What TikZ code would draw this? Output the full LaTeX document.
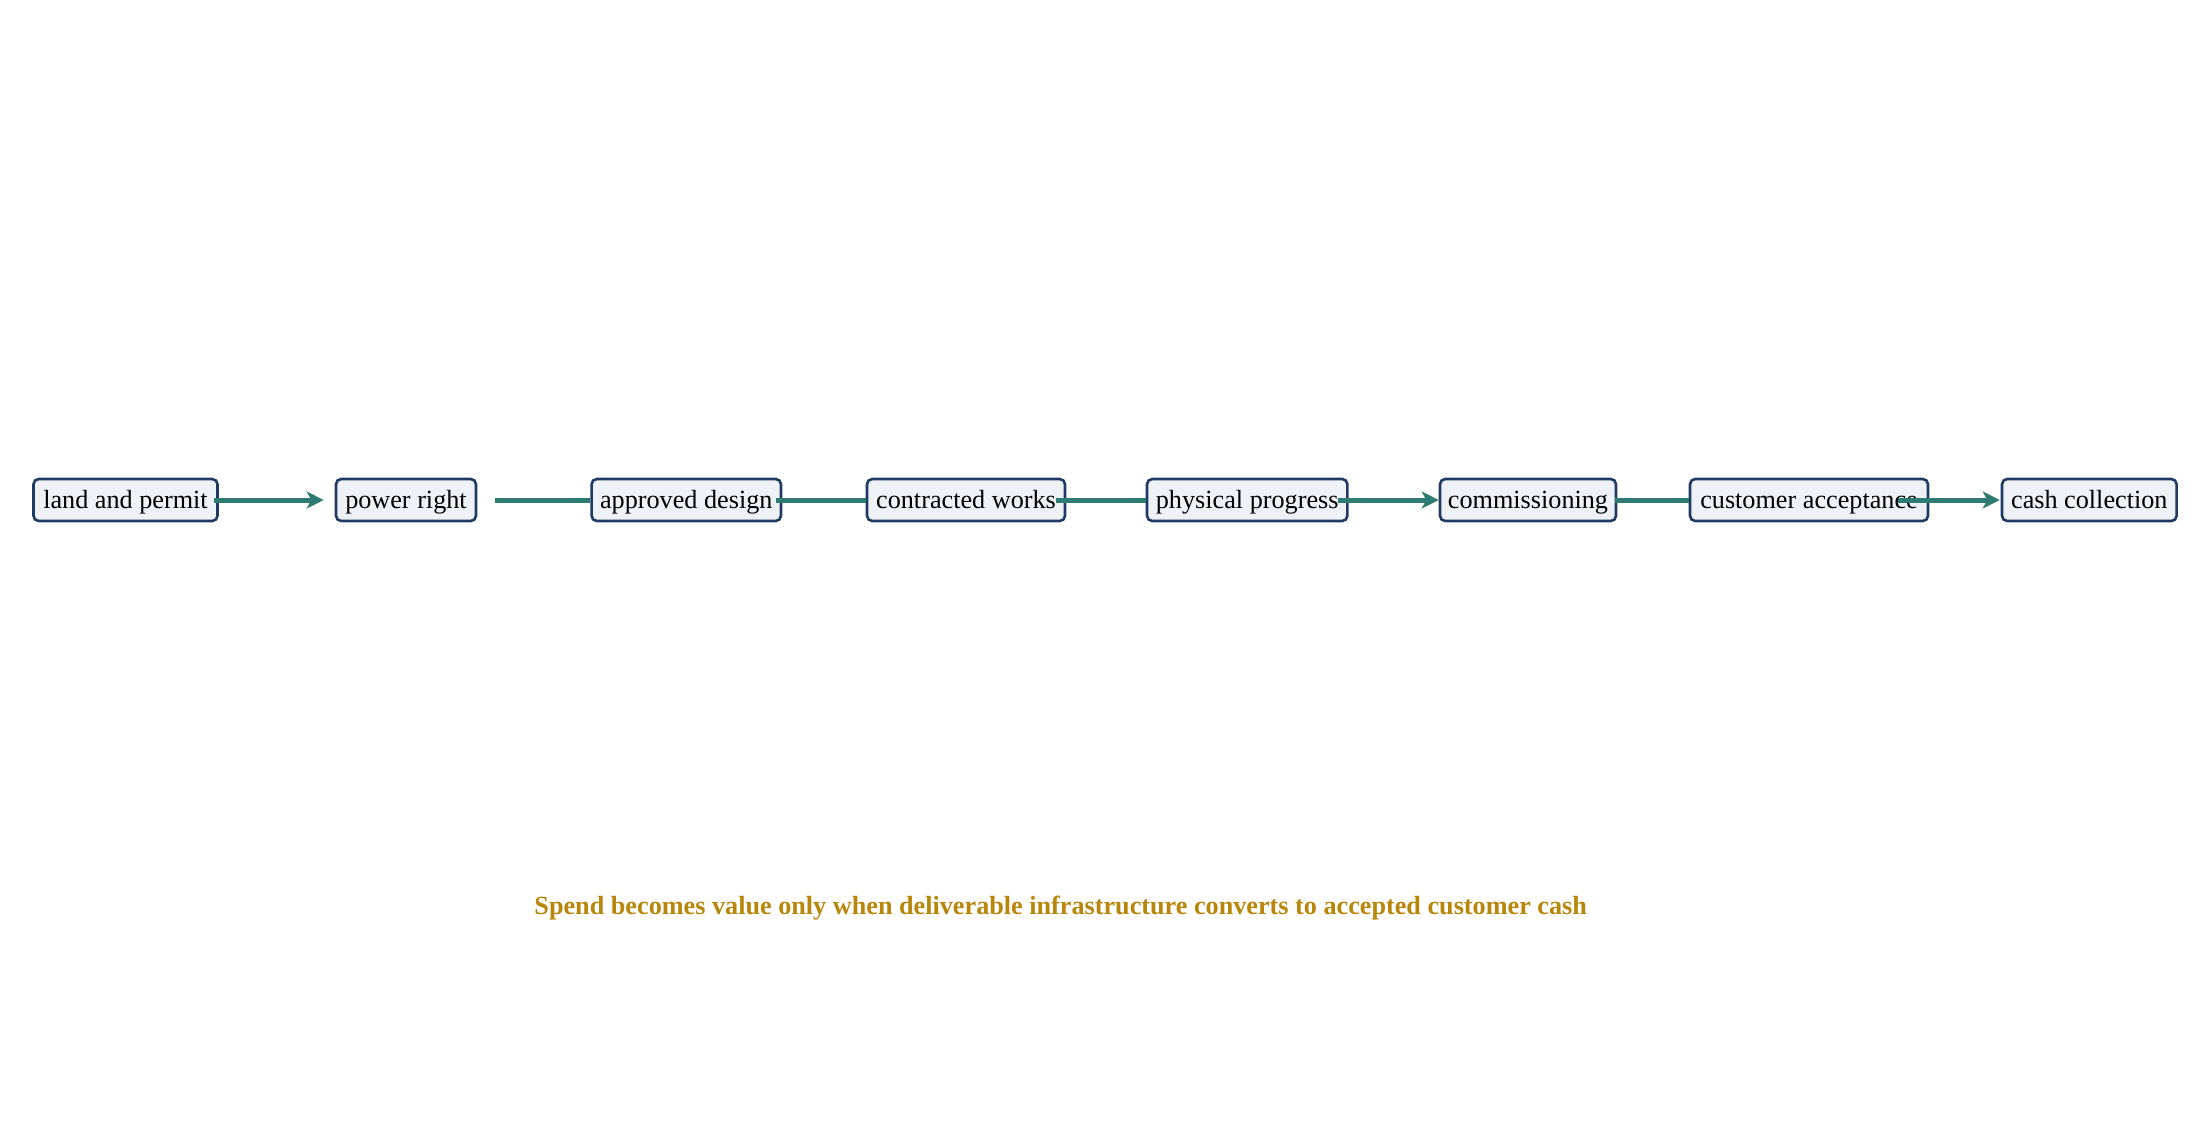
\documentclass[tikz,border=0pt]{standalone}
\usepackage{fontspec}
\setmainfont{Liberation Serif}
\usetikzlibrary{arrows.meta,calc}
\definecolor{boxfill}{HTML}{EEF1F6}
\definecolor{boxline}{HTML}{1F3B63}
\definecolor{flow}{HTML}{2E7B72}
\definecolor{gold}{HTML}{B8860B}
\tikzset{
  stage/.style={draw=boxline, fill=boxfill, line width=1.3pt, rounded corners=2.6pt,
    inner sep=0pt, minimum height=21pt, text height=10.2pt, text depth=1.6pt,
    font=\fontsize{13.1}{15}\selectfont},
  link/.style={draw=flow, line width=2.5pt},
  linkarrow/.style={link, -{Stealth[length=8.5pt,width=8.5pt,inset=2.3pt]}},
}
\begin{document}
\begin{tikzpicture}[x=0.5pt,y=-0.5pt]
\useasboundingbox (0,0) rectangle (2189,1132);
\node[stage, minimum width=92pt]  (n1) at (125.5,500) {land and permit};
\node[stage, minimum width=70pt]  (n2) at (406,500) {power right};
\node[stage, minimum width=94.7pt] (n3) at (686.3,500) {approved design};
\node[stage, minimum width=99pt]  (n4) at (966,500) {contracted works};
\node[stage, minimum width=100.2pt] (n5) at (1247.2,500) {physical progress};
\node[stage, minimum width=88pt]  (n6) at (1528,500) {commissioning};
\node[stage, minimum width=119pt] (n7) at (1809,500) {customer acceptance};
\node[stage, minimum width=87.3pt] (n8) at (2089.3,500) {cash collection};
\draw[linkarrow] ($(n1.east)+(-4.5,0)$) -- ($(n2.west)+(-11,0)$);
\draw[link] ($(n2.east)+(18,0)$) -- (n3.west);
\draw[link] ($(n3.east)+(-6,0)$) -- (n4.west);
\draw[link] ($(n4.east)+(-10,0)$) -- (n5.west);
\draw[linkarrow] ($(n5.east)+(-10.5,0)$) -- (n6.west);
\draw[link] ($(n6.east)+(-2,0)$) -- (n7.west);
\draw[linkarrow] ($(n7.east)+(-31,0)$) -- ($(n8.west)+(-1,0)$);
\node[font=\bfseries\fontsize{13.1}{15}\selectfont, text=gold] (title) at (1060.7,908)
  {Spend becomes value only when deliverable infrastructure converts to accepted customer cash};
\end{tikzpicture}
\end{document}
